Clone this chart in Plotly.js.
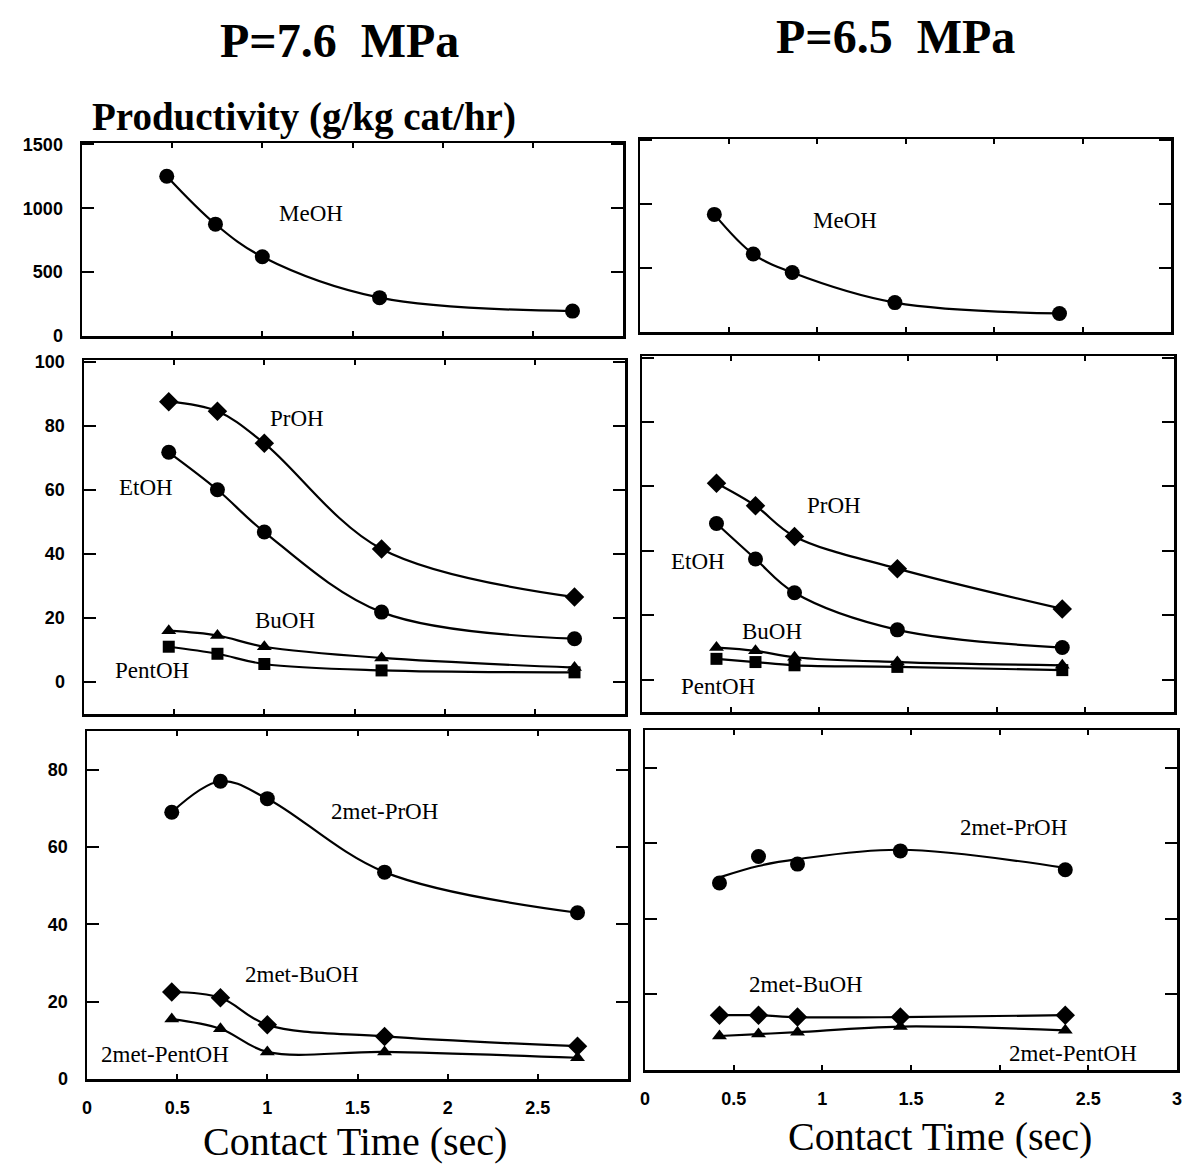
<!DOCTYPE html>
<html><head><meta charset="utf-8">
<script src="https://cdn.plot.ly/plotly-3.0.1.min.js"></script>
<style>body{margin:0;background:#fff}#chart{width:1185px;height:1165px}</style>
</head><body><div id="chart"></div>
<script>
// Contact time (sec)
const timeLeft  = [0.47, 0.74, 1.0, 1.65, 2.72];   // P = 7.6 MPa
const timeRight = [0.42, 0.64, 0.86, 1.44, 2.37];  // P = 6.5 MPa

// Productivity (g/kg cat/hr), P = 7.6 MPa
const meohLeft  = [1250, 875, 620, 300, 195];
const prohLeft  = [87.5, 84.5, 74.5, 41.5, 26.5];
const etohLeft  = [71.7, 60, 46.8, 21.8, 13.5];
const buohLeft  = [16, 14.5, 11, 7.5, 4.5];
const pentLeft  = [11, 8.8, 5.6, 3.6, 3];
const mPrLeft   = [69, 77, 72.5, 53.5, 43];
const mBuLeft   = [22.5, 21, 14, 11, 8.5];
const mPeLeft   = [15.5, 13, 7, 7, 5.5];

// Productivity (g/kg cat/hr), P = 6.5 MPa
const meohRight = [920, 610, 465, 230, 145];
const prohRight = [61, 54, 44.5, 34.5, 22];
const etohRight = [48.5, 37.5, 27, 15.5, 10];
const buohRight = [10, 9, 7, 5.5, 4.5];
const pentRight = [6.5, 5.5, 4.5, 4, 3];
const mPrRight  = [49.5, 56.5, 54.5, 58, 53];
const mPrRightFit = [51, 54, 55.8, 58.3, 53.5];  // smooth fitted curve read at the same times
const mBuRight  = [14.5, 14.5, 14, 14, 14.5];
const mPeRight  = [9, 9.5, 10, 11.5, 10.5];

const W = 1185, H = 1165;
const px = v => v / W, py = v => 1 - v / H;

const SYM = {circle: 15, diamond: 15, 'triangle-up': 13, square: 12};
function tr(x, y, sym, xa, ya, mode) {
  return {
    x, y, xaxis: xa, yaxis: ya, type: 'scatter', mode: mode || 'lines+markers',
    line: {color: '#000', width: 2.2, shape: 'spline', smoothing: 1},
    marker: {symbol: sym, size: SYM[sym], color: '#000'},
    showlegend: false, hoverinfo: 'x+y'
  };
}

const data = [
  tr(timeLeft, meohLeft, 'circle', 'x', 'y'),
  tr(timeRight, meohRight, 'circle', 'x2', 'y2'),
  tr(timeLeft, prohLeft, 'diamond', 'x3', 'y3'),
  tr(timeLeft, etohLeft, 'circle', 'x3', 'y3'),
  tr(timeLeft, buohLeft, 'triangle-up', 'x3', 'y3'),
  tr(timeLeft, pentLeft, 'square', 'x3', 'y3'),
  tr(timeRight, prohRight, 'diamond', 'x4', 'y4'),
  tr(timeRight, etohRight, 'circle', 'x4', 'y4'),
  tr(timeRight, buohRight, 'triangle-up', 'x4', 'y4'),
  tr(timeRight, pentRight, 'square', 'x4', 'y4'),
  tr(timeLeft, mPrLeft, 'circle', 'x5', 'y5'),
  tr(timeLeft, mBuLeft, 'diamond', 'x5', 'y5'),
  tr(timeLeft, mPeLeft, 'triangle-up', 'x5', 'y5'),
  tr(timeRight, mPrRightFit, 'circle', 'x6', 'y6', 'lines'),
  tr(timeRight, mPrRight, 'circle', 'x6', 'y6', 'markers'),
  tr(timeRight, mBuRight, 'diamond', 'x6', 'y6'),
  tr(timeRight, mPeRight, 'triangle-up', 'x6', 'y6')
];

const tickFont = {family: 'Liberation Sans, Arial, sans-serif', size: 18, color: '#000', weight: 'bold'};
const base = {
  showline: true, mirror: 'ticks', linecolor: '#000', linewidth: 2.5,
  ticks: 'inside', tickcolor: '#000', showgrid: false, zeroline: false,
  tickfont: tickFont, fixedrange: true
};
function xaxis(l, r, anchor, labels) {
  const o = Object.assign({}, base, {
    domain: [px(l), px(r)], anchor, range: [0, 3], ticklen: 5, tickwidth: 2
  });
  if (labels) {
    o.tickvals = labels.map(Number);
    o.ticktext = labels;
    o.showticklabels = true;
    o.ticklabelstandoff = 11;
  } else {
    o.tickvals = [0.5, 1, 1.5, 2, 2.5];
    o.showticklabels = false;
  }
  return o;
}
function yaxis(t, b, anchor, range, vals, labels) {
  return Object.assign({}, base, {
    domain: [py(b), py(t)], anchor, range, tickvals: vals,
    ticktext: vals.map(String), showticklabels: labels,
    ticklen: 12, tickwidth: 2, ticklabelstandoff: 13
  });
}

const serif = 'Liberation Serif, Times New Roman, serif';
function lab(text, x, y, size, xanchor, bold) {
  return {text, x: px(x), y: py(y), xref: 'paper', yref: 'paper', showarrow: false,
    xanchor: xanchor || 'center', yanchor: 'middle',
    font: {family: serif, size: size || 23, color: '#000', weight: bold ? 'bold' : 'normal'}};
}

const layout = {
  width: W, height: H, margin: {l: 0, r: 0, t: 0, b: 0},
  paper_bgcolor: '#fff', plot_bgcolor: '#fff', showlegend: false,
  xaxis:  xaxis(82, 623, 'y'),
  yaxis:  yaxis(143, 336, 'x', [0, 1510], [0, 500, 1000, 1500], true),
  xaxis2: xaxis(640, 1171, 'y2'),
  yaxis2: yaxis(139, 332, 'x2', [0, 1510], [0, 500, 1000, 1500], false),
  xaxis3: xaxis(84, 625, 'y3'),
  yaxis3: yaxis(360, 714, 'x3', [-10, 100.5], [0, 20, 40, 60, 80, 100], true),
  xaxis4: xaxis(642, 1174, 'y4'),
  yaxis4: yaxis(356, 712, 'x4', [-10, 100.5], [0, 20, 40, 60, 80, 100], false),
  xaxis5: xaxis(87, 628, 'y5', ['0', '0.5', '1', '1.5', '2', '2.5']),
  yaxis5: yaxis(731, 1079, 'x5', [0, 90], [0, 20, 40, 60, 80], true),
  xaxis6: xaxis(645, 1177, 'y6', ['0', '0.5', '1', '1.5', '2', '2.5', '3']),
  yaxis6: yaxis(730, 1070, 'x6', [0, 90], [0, 20, 40, 60, 80], false),
  annotations: [
    lab('P=7.6  MPa', 339, 40, 48, 'center', true),
    lab('P=6.5  MPa', 895, 36, 48, 'center', true),
    lab('Productivity (g/kg cat/hr)', 90, 117, 39, 'left', true),
    lab('Contact Time (sec)', 355, 1141, 40),
    lab('Contact Time (sec)', 940, 1136, 40),
    lab('MeOH', 311, 213),
    lab('MeOH', 845, 220),
    lab('PrOH', 297, 418),
    lab('EtOH', 146, 487),
    lab('BuOH', 285, 620),
    lab('PentOH', 152, 670),
    lab('PrOH', 834, 505),
    lab('EtOH', 698, 561),
    lab('BuOH', 772, 632),
    lab('PentOH', 718, 686),
    lab('2met-PrOH', 385, 811),
    lab('2met-BuOH', 302, 974),
    lab('2met-PentOH', 165, 1054),
    lab('2met-PrOH', 1013, 828),
    lab('2met-BuOH', 806, 984),
    lab('2met-PentOH', 1073, 1053)
  ]
};

Plotly.newPlot('chart', data, layout, {staticPlot: true, displayModeBar: false});
</script>
</body></html>
